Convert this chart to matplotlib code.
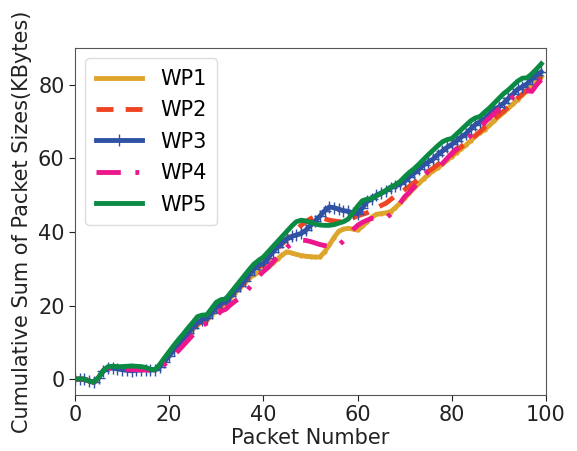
"""Cumulative packet size per waypoint trace (WP1..WP5)."""
import matplotlib
matplotlib.use("Agg")
import matplotlib.pyplot as plt
import numpy as np

packets = np.arange(100)

wp1 = [0, 0, 0, -0.5, -0.8, 0.5, 2.3, 3.2, 3.4, 3.3, 3.3, 3.4, 3.5, 3.4, 3.2, 3.0, 2.6,
       2.5, 3.5, 4.9, 6.4, 7.9, 9.4, 10.8, 12.2, 13.6, 14.8, 15.6, 16.0, 17.4, 18.8, 20.0, 20.6,
       22.0, 23.4, 24.8, 26.2, 27.4, 28.4, 29.0, 29.4, 30.4, 31.5, 32.6, 33.8, 34.6, 34.3, 33.9,
       33.6, 33.4, 33.3, 33.2, 33.2, 34.6, 36.5, 38.5, 40.2, 40.8, 41.0, 40.8, 40.5, 41.5, 42.8,
       44.0, 44.8, 45.0, 45.2, 45.5, 46.6, 47.8, 49.2, 50.6, 52.0, 53.2, 54.4, 55.6, 56.6, 57.4,
       58.4, 59.5, 60.5, 61.6, 62.6, 63.6, 64.8, 66.0, 67.0, 67.8, 69.0, 70.2, 71.4, 72.5, 73.6,
       74.8, 76.0, 77.2, 78.4, 79.6, 80.8, 82.2]
wp2 = [0, 0, 0, -0.5, -0.8, 0.5, 2.3, 3.2, 3.3, 3.2, 3.1, 3.2, 3.3, 3.2, 3.0, 2.9, 2.6,
       2.5, 3.6, 5.0, 6.6, 8.1, 9.6, 11.0, 12.4, 13.8, 15.0, 15.8, 16.3, 17.6, 19.0, 20.2, 20.8,
       22.2, 23.6, 25.0, 26.5, 28.0, 29.4, 30.5, 31.0, 32.5, 34.0, 35.5, 36.8, 38.0, 39.4, 40.6,
       41.8, 42.8, 43.6, 44.2, 44.0, 43.6, 43.2, 43.0, 42.8, 42.8, 43.2, 43.8, 44.4, 44.8, 45.2,
       45.8, 46.5, 47.2, 47.8, 48.8, 49.8, 50.5, 51.5, 52.4, 53.4, 54.4, 55.5, 56.5, 57.3, 58.3,
       59.3, 60.2, 61.0, 62.2, 63.2, 64.0, 65.0, 66.2, 67.3, 68.5, 69.6, 70.7, 71.8, 72.8, 74.0,
       75.2, 76.4, 77.5, 78.6, 79.8, 81.0, 82.0]
wp3 = [0, 0, 0, -0.5, -0.9, 0.4, 2.2, 3.0, 3.0, 2.8, 2.6, 2.4, 2.3, 2.4, 2.5, 2.6, 2.5,
       2.5, 3.4, 4.8, 6.4, 8.0, 9.6, 11.0, 12.5, 14.0, 15.3, 16.2, 16.6, 18.0, 19.5, 20.6, 21.0,
       22.5, 24.0, 25.3, 26.8, 28.4, 29.9, 31.0, 31.5, 33.0, 34.5, 36.0, 37.2, 38.2, 38.8, 39.2,
       39.6, 40.5, 41.8, 43.0, 44.3, 45.8, 46.8, 46.6, 46.2, 45.8, 45.6, 45.2, 45.0, 46.5, 48.3,
       49.0, 50.0, 50.6, 51.2, 52.0, 52.5, 53.0, 53.8, 55.0, 56.0, 57.0, 58.2, 59.0, 59.8, 61.0,
       62.0, 63.0, 63.8, 64.8, 65.8, 66.7, 68.0, 69.2, 70.0, 70.8, 72.0, 73.2, 74.0, 75.0, 76.3,
       77.5, 78.8, 79.5, 80.3, 81.5, 82.6, 83.5]
wp4 = [0, 0, 0, -0.5, -0.8, 0.4, 2.2, 3.0, 3.0, 2.9, 2.8, 2.7, 2.6, 2.6, 2.5, 2.5, 2.4,
       2.4, 3.0, 4.0, 5.2, 6.5, 7.8, 9.2, 10.6, 12.0, 13.4, 14.6, 15.2, 16.0, 17.2, 18.5, 19.0,
       20.2, 21.2, 22.0, 23.2, 24.8, 26.4, 28.0, 29.3, 30.4, 31.8, 33.2, 34.5, 35.8, 36.8, 37.6,
       37.8, 37.7, 37.4, 37.0, 36.6, 36.3, 36.1, 36.0, 36.4, 37.6, 39.0, 40.6, 41.8, 42.6, 43.2,
       43.7, 43.7, 43.7, 43.8, 44.8, 46.0, 47.8, 49.6, 50.8, 52.2, 53.6, 55.0, 56.5, 57.3, 57.4,
       58.6, 60.0, 61.4, 62.6, 63.8, 65.0, 66.2, 67.5, 68.7, 69.8, 71.0, 72.2, 73.4, 74.5, 75.6,
       76.8, 77.8, 78.6, 78.4, 78.2, 80.0, 81.4]
wp5 = [0, 0.1, 0, -0.5, -0.8, 0.5, 2.4, 3.4, 3.5, 3.4, 3.4, 3.5, 3.6, 3.5, 3.4, 3.2, 2.7,
       2.6, 4.0, 5.8, 7.5, 9.2, 10.8, 12.3, 13.9, 15.4, 17.0, 17.4, 17.5, 19.2, 20.9, 21.6, 21.8,
       23.4, 25.0, 26.6, 28.2, 29.8, 31.3, 32.3, 33.2, 34.6, 36.0, 37.4, 38.8, 40.2, 41.6, 42.8,
       43.2, 43.0, 42.6, 42.2, 41.9, 41.8, 41.8, 42.0, 42.4, 42.8, 43.5, 45.2, 47.0, 48.5, 48.9,
       49.1, 49.8, 50.5, 51.3, 52.2, 52.8, 53.7, 55.0, 56.2, 57.2, 58.4, 59.7, 61.0, 62.2, 63.4,
       64.5, 65.1, 65.4, 66.6, 67.8, 69.0, 70.2, 71.0, 71.4, 72.6, 73.7, 75.0, 76.3, 77.6, 78.6,
       79.8, 81.0, 81.8, 81.9, 83.0, 84.3, 85.7]

labels = ["WP1", "WP2", "WP3", "WP4", "WP5"]
series = [wp1, wp2, wp3, wp4, wp5]
colors = ["#dea52c", "#ef4423", "#3052a4", "#ec178c", "#0a8a43"]
styles = [
    dict(linestyle="-", marker=".", markersize=4),
    dict(linestyle=(0, (3.5, 2.5))),
    dict(linestyle="-", marker="+", markersize=8, markeredgewidth=1),
    dict(linestyle=(0, (5, 3, 0.8, 3))),
    dict(linestyle="-"),
]

fig = plt.figure(figsize=(5.77, 4.51), dpi=100)
ax = fig.add_axes([75 / 577, 56 / 451, 471 / 577, 347 / 451])

for lab, ys, c, st in zip(labels, series, colors, styles):
    ax.plot(packets, ys, color=c, linewidth=3.5, label=lab, **st)

ax.set_xlim(0, 100)
ax.set_ylim(-4.3, 90)
ax.set_xticks([0, 20, 40, 60, 80, 100])
ax.set_yticks([0, 20, 40, 60, 80])
ax.tick_params(labelsize=15, colors="#222222", length=4)
for s in ax.spines.values():
    s.set_color("#555555")
ax.set_xlabel("Packet Number", fontsize=15, color="#222222", labelpad=2)
ax.set_ylabel("Cumulative Sum of Packet Sizes(KBytes)", fontsize=15, color="#222222", labelpad=4)

leg = ax.legend(loc="upper left", fontsize=15, handlelength=2.2, handletextpad=0.9,
                borderpad=0.5, labelspacing=0.55, framealpha=1)
leg.get_frame().set_edgecolor("#dddddd")

fig.savefig("out.png", dpi=100)
